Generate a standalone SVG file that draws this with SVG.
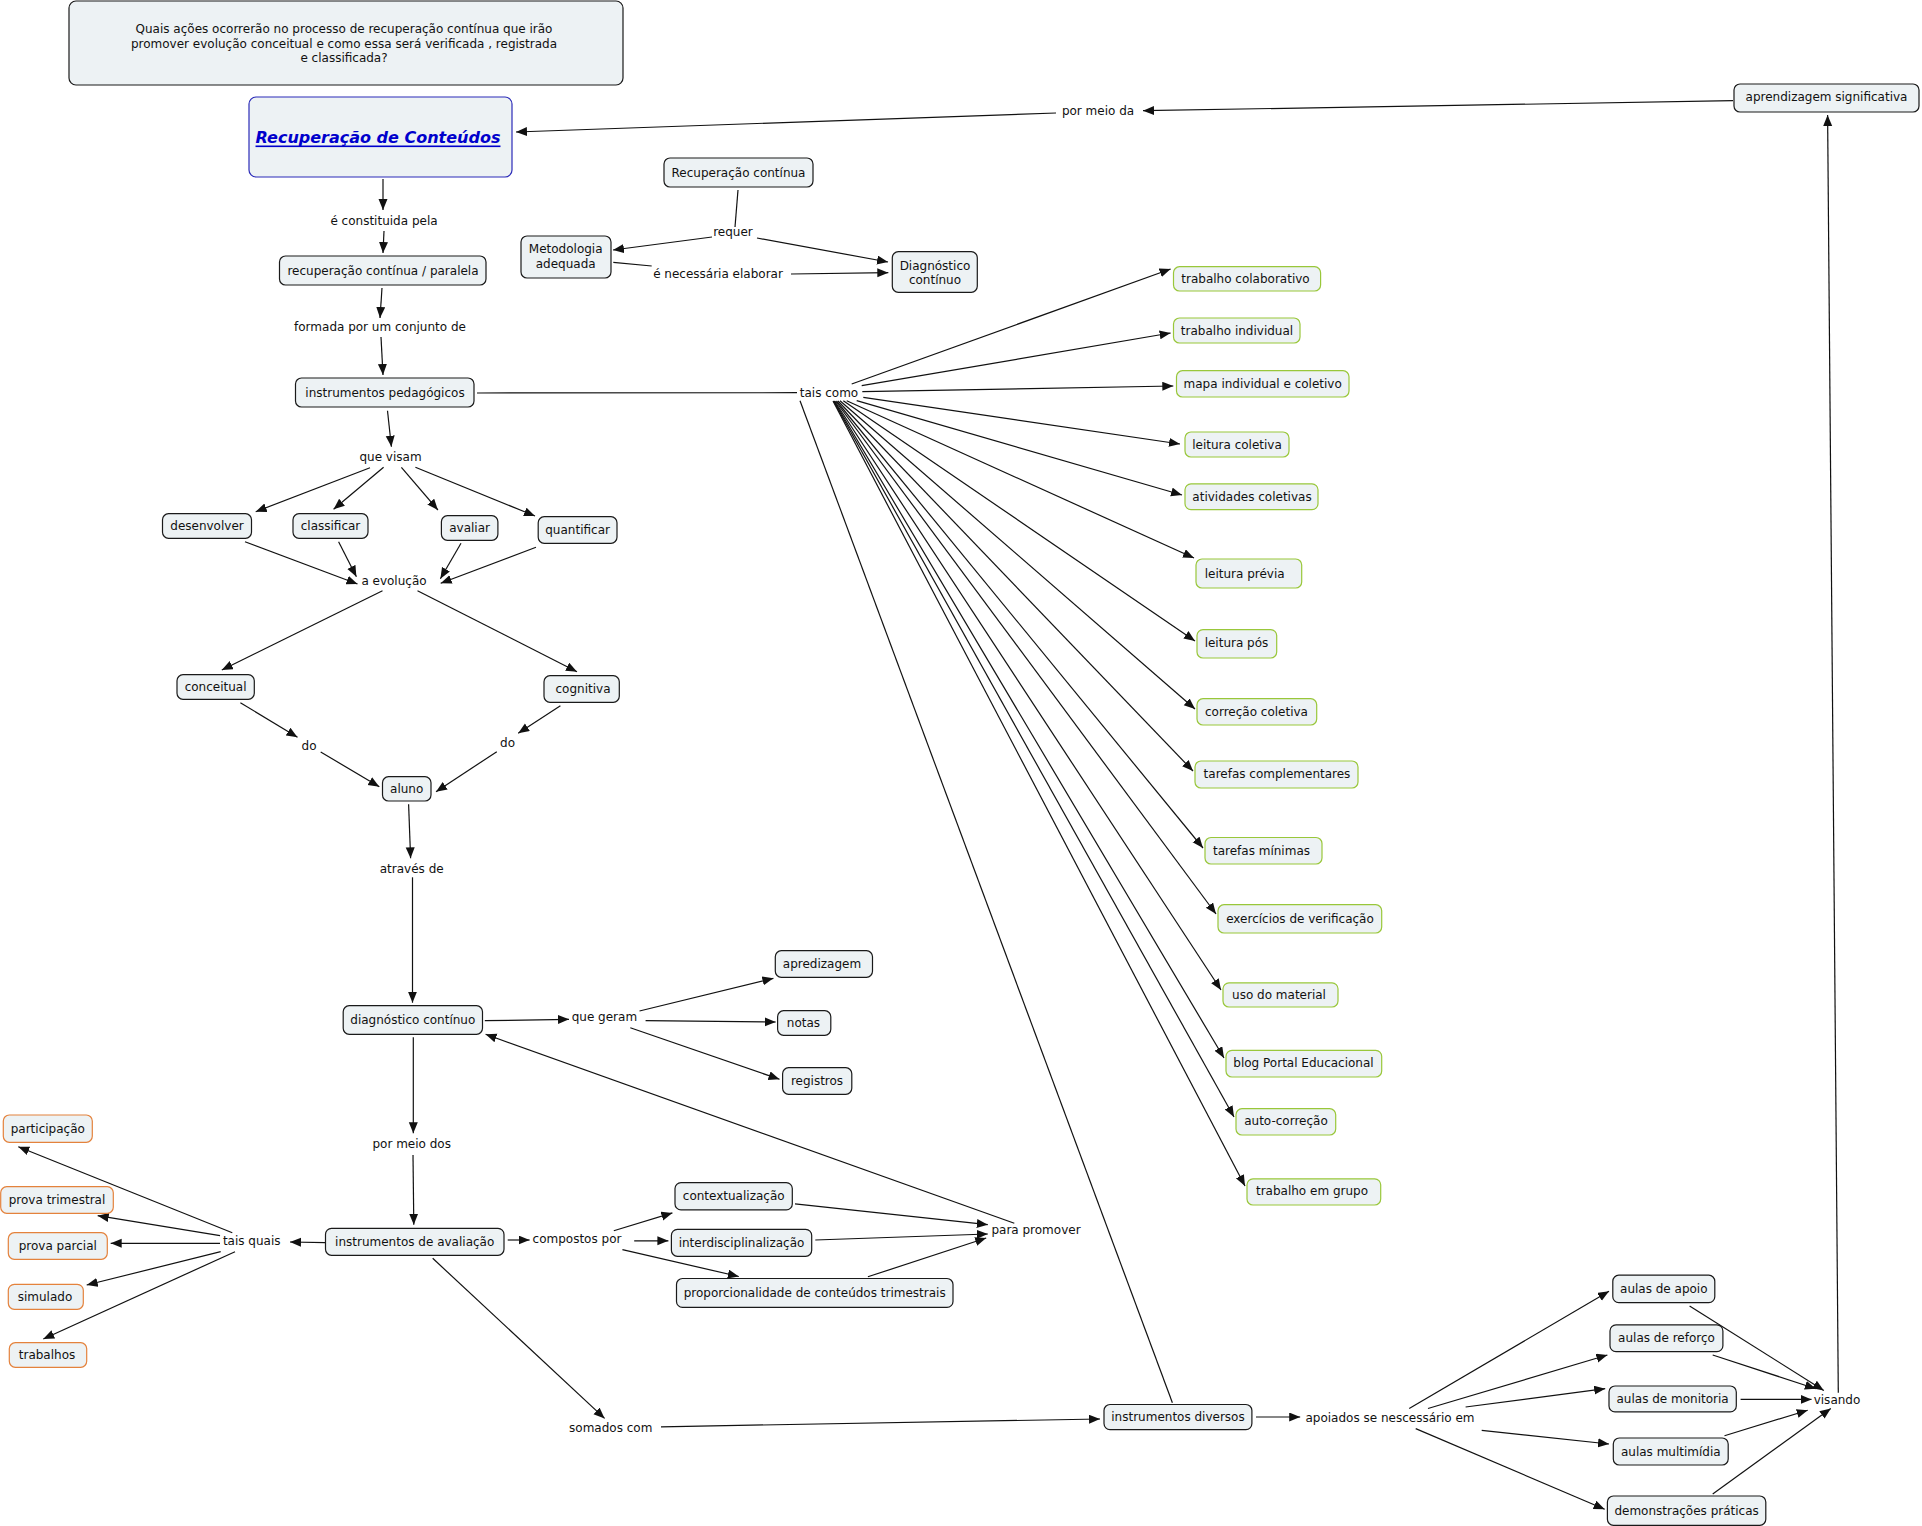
<svg xmlns="http://www.w3.org/2000/svg" width="1922" height="1526" viewBox="0 0 1922 1526">
<style>
rect{fill:#edf2f4;stroke:#1a1a1a;stroke-width:1.2}
rect.g{stroke:#99c73a}
rect.o{stroke:#e4823c}
rect.m{stroke:#2b2bb8}
text{font-family:"DejaVu Sans",Verdana,sans-serif;font-size:12px;fill:#111;text-anchor:middle;dominant-baseline:central}
text.mt{font-size:16px;font-weight:bold;font-style:italic;fill:#0000cc;text-decoration:underline}
#connectors line{stroke:#111;stroke-width:1.2;fill:none}
#connectors line.a{marker-end:url(#ah)}
</style>
<defs>
<marker id="ah" markerUnits="userSpaceOnUse" markerWidth="12" markerHeight="10" refX="11" refY="4.5" orient="auto">
<path d="M0,0 L11,4.5 L0,9 z" fill="#111"/>
</marker>
</defs>
<rect width="1922" height="1526" style="fill:#fff;stroke:none"/>
<g id="connectors">
<line class="a" x1="383" y1="179" x2="383" y2="210"/>
<line class="a" x1="384" y1="231" x2="383" y2="253"/>
<line class="a" x1="382" y1="288" x2="380" y2="318"/>
<line class="a" x1="381" y1="337" x2="383" y2="375"/>
<line x1="477" y1="393" x2="797" y2="392.7"/>
<line class="a" x1="387.5" y1="410.7" x2="391.4" y2="446.7"/>
<line class="a" x1="370" y1="467.7" x2="255.7" y2="511.7"/>
<line class="a" x1="383.6" y1="467.3" x2="333.6" y2="509.3"/>
<line class="a" x1="401.4" y1="467.3" x2="437.9" y2="510"/>
<line class="a" x1="415.4" y1="467.3" x2="535" y2="516"/>
<line class="a" x1="245" y1="541.7" x2="357.5" y2="584"/>
<line class="a" x1="338.6" y1="541.7" x2="356.4" y2="576.7"/>
<line class="a" x1="461" y1="543.3" x2="440.4" y2="578.7"/>
<line class="a" x1="536" y1="547.3" x2="440.7" y2="583.3"/>
<line class="a" x1="382.5" y1="590.7" x2="221.8" y2="670"/>
<line class="a" x1="417.5" y1="590.7" x2="577" y2="671.7"/>
<line class="a" x1="240.4" y1="702.7" x2="297.5" y2="737.3"/>
<line class="a" x1="320.7" y1="752" x2="379.3" y2="786.7"/>
<line class="a" x1="560.4" y1="705.7" x2="518.2" y2="733.3"/>
<line class="a" x1="496.8" y1="751.7" x2="436" y2="791.7"/>
<line class="a" x1="408.6" y1="804.3" x2="410.6" y2="858.3"/>
<line class="a" x1="412.5" y1="877.3" x2="412.5" y2="1002.7"/>
<line class="a" x1="484.8" y1="1020.7" x2="569" y2="1019.3"/>
<line class="a" x1="639.5" y1="1011" x2="773.4" y2="978.3"/>
<line class="a" x1="645.6" y1="1020.7" x2="775.7" y2="1022"/>
<line class="a" x1="630.3" y1="1027.7" x2="779.5" y2="1079.3"/>
<line class="a" x1="413.3" y1="1037.3" x2="413.3" y2="1133.3"/>
<line class="a" x1="413" y1="1155" x2="413.8" y2="1224.7"/>
<line class="a" x1="325" y1="1242.7" x2="290" y2="1242"/>
<line class="a" x1="232.3" y1="1232.7" x2="18.3" y2="1146.7"/>
<line class="a" x1="220" y1="1235.7" x2="97.7" y2="1215.7"/>
<line class="a" x1="220" y1="1243.3" x2="110.7" y2="1243.3"/>
<line class="a" x1="220.7" y1="1251.7" x2="86.7" y2="1285"/>
<line class="a" x1="235" y1="1251.7" x2="43.3" y2="1339"/>
<line class="a" x1="507.7" y1="1240" x2="529.6" y2="1240"/>
<line class="a" x1="613.8" y1="1230.7" x2="672.4" y2="1212.9"/>
<line class="a" x1="634.2" y1="1240.8" x2="668.4" y2="1240.8"/>
<line class="a" x1="622.4" y1="1249.6" x2="738.8" y2="1276.5"/>
<line class="a" x1="795" y1="1203.8" x2="987.8" y2="1224.7"/>
<line class="a" x1="815.3" y1="1240" x2="987.8" y2="1234"/>
<line class="a" x1="867.9" y1="1276.8" x2="986.2" y2="1238"/>
<line class="a" x1="1014.3" y1="1223.3" x2="485.6" y2="1034.3"/>
<line class="a" x1="432.7" y1="1258.3" x2="604.6" y2="1418.4"/>
<line class="a" x1="661" y1="1426.8" x2="1100" y2="1419"/>
<line x1="1172.4" y1="1402.8" x2="800" y2="400.7"/>
<line class="a" x1="851.7" y1="384" x2="1170.6" y2="269"/>
<line class="a" x1="861.7" y1="385.7" x2="1170.6" y2="333"/>
<line class="a" x1="862.3" y1="391.7" x2="1173.3" y2="386"/>
<line class="a" x1="863.3" y1="397.3" x2="1180" y2="444"/>
<line class="a" x1="856.7" y1="400.7" x2="1182" y2="495"/>
<line class="a" x1="846.7" y1="400.7" x2="1194" y2="558"/>
<line class="a" x1="843.3" y1="400.7" x2="1195" y2="641"/>
<line class="a" x1="840" y1="400.7" x2="1195" y2="709"/>
<line class="a" x1="838" y1="401" x2="1193" y2="771"/>
<line class="a" x1="836.5" y1="401" x2="1203" y2="848"/>
<line class="a" x1="835.5" y1="401" x2="1216" y2="914"/>
<line class="a" x1="834.5" y1="401" x2="1221" y2="990"/>
<line class="a" x1="834" y1="401" x2="1224" y2="1058"/>
<line class="a" x1="833.5" y1="401" x2="1234" y2="1117"/>
<line class="a" x1="833" y1="401" x2="1245" y2="1186"/>
<line class="a" x1="1256" y1="1417" x2="1300.2" y2="1417"/>
<line class="a" x1="1409.2" y1="1408.5" x2="1609" y2="1291.3"/>
<line class="a" x1="1428" y1="1408.5" x2="1607.4" y2="1355"/>
<line class="a" x1="1465.6" y1="1407" x2="1605.2" y2="1388.7"/>
<line class="a" x1="1481.7" y1="1430.3" x2="1609" y2="1444"/>
<line class="a" x1="1415.7" y1="1428.6" x2="1604.7" y2="1509.2"/>
<line class="a" x1="1689.6" y1="1306" x2="1823.8" y2="1390.4"/>
<line class="a" x1="1712.7" y1="1355" x2="1815.8" y2="1388.7"/>
<line class="a" x1="1740.6" y1="1399.4" x2="1811.5" y2="1399.4"/>
<line class="a" x1="1724.5" y1="1435.7" x2="1807.7" y2="1410.2"/>
<line class="a" x1="1712.7" y1="1494.1" x2="1830.8" y2="1408.5"/>
<line class="a" x1="1838.3" y1="1392.7" x2="1827.6" y2="115"/>
<line class="a" x1="1733" y1="100.7" x2="1143" y2="110.7"/>
<line class="a" x1="1056" y1="113" x2="516" y2="132"/>
<line x1="738" y1="190" x2="735" y2="227"/>
<line class="a" x1="712" y1="237" x2="613" y2="250"/>
<line class="a" x1="757" y1="238" x2="888" y2="262"/>
<line x1="613.3" y1="262.3" x2="651.7" y2="266"/>
<line class="a" x1="791" y1="274" x2="888.3" y2="272.7"/>
</g>
<g id="question"><rect x="69" y="1" width="554" height="84" rx="7"/><text x="344" y="29">Quais ações ocorrerão no processo de recuperação contínua que irão</text><text x="344" y="43.5">promover evolução conceitual e como essa será verificada , registrada</text><text x="344" y="58">e classificada?</text></g>
<g id="main"><rect class="m" x="249" y="97" width="263" height="80" rx="7"/><text class="mt" x="378" y="137">Recuperação de Conteúdos</text></g>
<g id="lp-constituida"><text x="384" y="221">é constituida pela</text></g>
<g id="rec-paralela"><rect x="279.5" y="256" width="206.5" height="29" rx="6"/><text x="383" y="270.5">recuperação contínua / paralela</text></g>
<g id="lp-formada"><text x="380" y="327">formada por um conjunto de</text></g>
<g id="instr-ped"><rect x="295.5" y="378" width="178.5" height="29" rx="6"/><text x="385" y="392.5">instrumentos pedagógicos</text></g>
<g id="lp-tais-como"><text x="829" y="393">tais como</text></g>
<g id="lp-visam"><text x="390.5" y="456.7">que visam</text></g>
<g id="desenvolver"><rect x="162.5" y="513.7" width="89" height="24.6" rx="6"/><text x="207" y="526">desenvolver</text></g>
<g id="classificar"><rect x="293" y="513.7" width="75" height="24.6" rx="6"/><text x="330.5" y="526">classificar</text></g>
<g id="avaliar"><rect x="441.4" y="515.7" width="56.5" height="24.6" rx="6"/><text x="469.6" y="528">avaliar</text></g>
<g id="quantificar"><rect x="538.2" y="516.7" width="78.8" height="26.6" rx="6"/><text x="577.6" y="530">quantificar</text></g>
<g id="lp-evolucao"><text x="394" y="580.7">a evolução</text></g>
<g id="conceitual"><rect x="177" y="674.7" width="77.3" height="24.6" rx="6"/><text x="215.6" y="687">conceitual</text></g>
<g id="cognitiva"><rect x="544" y="675.7" width="75.3" height="26.6" rx="6"/><text x="583" y="689">cognitiva</text></g>
<g id="lp-do1"><text x="309" y="745.7">do</text></g>
<g id="lp-do2"><text x="507.5" y="742.7">do</text></g>
<g id="aluno"><rect x="382.5" y="776.7" width="48.5" height="24.3" rx="6"/><text x="406.7" y="789">aluno</text></g>
<g id="lp-atraves"><text x="411.7" y="869">através de</text></g>
<g id="diag-continuo"><rect x="343.2" y="1005.7" width="139.3" height="28.6" rx="6"/><text x="412.8" y="1020">diagnóstico contínuo</text></g>
<g id="lp-geram"><text x="604.4" y="1016.7">que geram</text></g>
<g id="apredizagem"><rect x="775.3" y="950.7" width="97.2" height="26.6" rx="6"/><text x="822" y="963.5">apredizagem</text></g>
<g id="notas"><rect x="777.6" y="1010.7" width="53.2" height="24.6" rx="6"/><text x="803.5" y="1023">notas</text></g>
<g id="registros"><rect x="782.6" y="1067.7" width="69.2" height="26.6" rx="6"/><text x="817" y="1081">registros</text></g>
<g id="lp-meio-dos"><text x="411.7" y="1144">por meio dos</text></g>
<g id="instr-aval"><rect x="325.5" y="1228.4" width="178.5" height="26.9" rx="6"/><text x="414.7" y="1241.8">instrumentos de avaliação</text></g>
<g id="lp-tais-quais"><text x="251.7" y="1240.7">tais quais</text></g>
<g id="participacao"><rect class="o" x="3.3" y="1115" width="89" height="27.3" rx="6"/><text x="47.8" y="1128.5">participação</text></g>
<g id="prova-trimestral"><rect class="o" x="0.7" y="1186.7" width="112.6" height="26.6" rx="6"/><text x="57" y="1200">prova trimestral</text></g>
<g id="prova-parcial"><rect class="o" x="8.3" y="1232.7" width="99" height="26.6" rx="6"/><text x="57.8" y="1246">prova parcial</text></g>
<g id="simulado"><rect class="o" x="8.3" y="1284.3" width="75" height="25" rx="6"/><text x="45" y="1297">simulado</text></g>
<g id="trabalhos"><rect class="o" x="9.3" y="1342.7" width="77.4" height="24.6" rx="6"/><text x="47" y="1355">trabalhos</text></g>
<g id="lp-compostos"><text x="577" y="1239">compostos por</text></g>
<g id="contextualizacao"><rect x="675" y="1182.6" width="117.3" height="27.3" rx="6"/><text x="733.7" y="1196">contextualização</text></g>
<g id="interdisc"><rect x="671.4" y="1229.4" width="140.3" height="26.9" rx="6"/><text x="741.5" y="1243">interdisciplinalização</text></g>
<g id="proporcionalidade"><rect x="676.5" y="1278.5" width="276.5" height="28.9" rx="6"/><text x="814.7" y="1293">proporcionalidade de conteúdos trimestrais</text></g>
<g id="lp-promover"><text x="1036" y="1229.7">para promover</text></g>
<g id="lp-somados"><text x="610.7" y="1427.5">somados com</text></g>
<g id="instr-diversos"><rect x="1104" y="1404.5" width="147.9" height="25.1" rx="6"/><text x="1178" y="1417">instrumentos diversos</text></g>
<g id="lp-apoiados"><text x="1390" y="1418">apoiados se nescessário em</text></g>
<g id="aulas-apoio"><rect x="1612.8" y="1275.2" width="102" height="27.5" rx="6"/><text x="1663.8" y="1289">aulas de apoio</text></g>
<g id="aulas-reforco"><rect x="1610" y="1324.9" width="112.9" height="26.8" rx="6"/><text x="1666.5" y="1338.3">aulas de reforço</text></g>
<g id="aulas-monitoria"><rect x="1609" y="1386" width="127.3" height="25.9" rx="6"/><text x="1672.6" y="1399">aulas de monitoria</text></g>
<g id="aulas-multimidia"><rect x="1613.3" y="1438" width="114.9" height="27" rx="6"/><text x="1670.8" y="1451.5">aulas multimídia</text></g>
<g id="demonstracoes"><rect x="1607.4" y="1496" width="158.4" height="29.3" rx="6"/><text x="1686.6" y="1510.7">demonstrações práticas</text></g>
<g id="lp-visando"><text x="1837" y="1400">visando</text></g>
<g id="aprend-sig"><rect x="1734" y="84" width="185" height="28" rx="6"/><text x="1826.5" y="97">aprendizagem significativa</text></g>
<g id="lp-meio-da"><text x="1098" y="111">por meio da</text></g>
<g id="rec-continua"><rect x="664" y="158" width="149" height="29" rx="6"/><text x="738.5" y="172.7">Recuperação contínua</text></g>
<g id="lp-requer"><text x="733" y="232">requer</text></g>
<g id="metodologia"><rect x="521" y="236" width="90" height="42" rx="6"/><text x="565.7" y="248.5">Metodologia</text><text x="565.7" y="263.5">adequada</text></g>
<g id="lp-necessaria"><text x="718" y="274.3">é necessária elaborar</text></g>
<g id="diag-cont2"><rect x="892.3" y="251.7" width="85" height="40.6" rx="6"/><text x="935" y="265.5">Diagnóstico</text><text x="935" y="280">contínuo</text></g>
<g id="trab-colab"><rect class="g" x="1173.5" y="266.7" width="147.1" height="24.3" rx="6"/><text x="1245.5" y="279">trabalho colaborativo</text></g>
<g id="trab-indiv"><rect class="g" x="1173.5" y="318" width="126.5" height="25" rx="6"/><text x="1237" y="330.5">trabalho individual</text></g>
<g id="mapa"><rect class="g" x="1176.5" y="370.7" width="172.5" height="26.3" rx="6"/><text x="1262.7" y="384">mapa individual e coletivo</text></g>
<g id="leit-coletiva"><rect class="g" x="1185" y="432" width="104" height="25" rx="6"/><text x="1237" y="444.5">leitura coletiva</text></g>
<g id="ativ-coletivas"><rect class="g" x="1185" y="483.8" width="133" height="25.9" rx="6"/><text x="1252" y="497">atividades coletivas</text></g>
<g id="leit-previa"><rect class="g" x="1196" y="559" width="105.7" height="29" rx="6"/><text x="1244.7" y="573.5">leitura prévia</text></g>
<g id="leit-pos"><rect class="g" x="1197" y="629.6" width="79.7" height="28.4" rx="6"/><text x="1236.5" y="643">leitura pós</text></g>
<g id="correcao"><rect class="g" x="1197" y="698.7" width="119.7" height="26.3" rx="6"/><text x="1256.5" y="711.5">correção coletiva</text></g>
<g id="tarefas-compl"><rect class="g" x="1195" y="761" width="163" height="27" rx="6"/><text x="1277" y="774">tarefas complementares</text></g>
<g id="tarefas-min"><rect class="g" x="1205" y="837.5" width="117" height="26.5" rx="6"/><text x="1261.5" y="851">tarefas mínimas</text></g>
<g id="exercicios"><rect class="g" x="1218" y="904.7" width="163.7" height="28.3" rx="6"/><text x="1300" y="918.6">exercícios de verificação</text></g>
<g id="uso-material"><rect class="g" x="1223" y="982.8" width="115" height="24.2" rx="6"/><text x="1279" y="995">uso do material</text></g>
<g id="blog"><rect class="g" x="1226" y="1050.4" width="155.7" height="26.6" rx="6"/><text x="1303.5" y="1063">blog Portal Educacional</text></g>
<g id="auto-correcao"><rect class="g" x="1236" y="1108.7" width="99.7" height="26.3" rx="6"/><text x="1286" y="1121">auto-correção</text></g>
<g id="trab-grupo"><rect class="g" x="1247" y="1178.8" width="133.7" height="26.2" rx="6"/><text x="1312" y="1191">trabalho em grupo</text></g>
</svg>
